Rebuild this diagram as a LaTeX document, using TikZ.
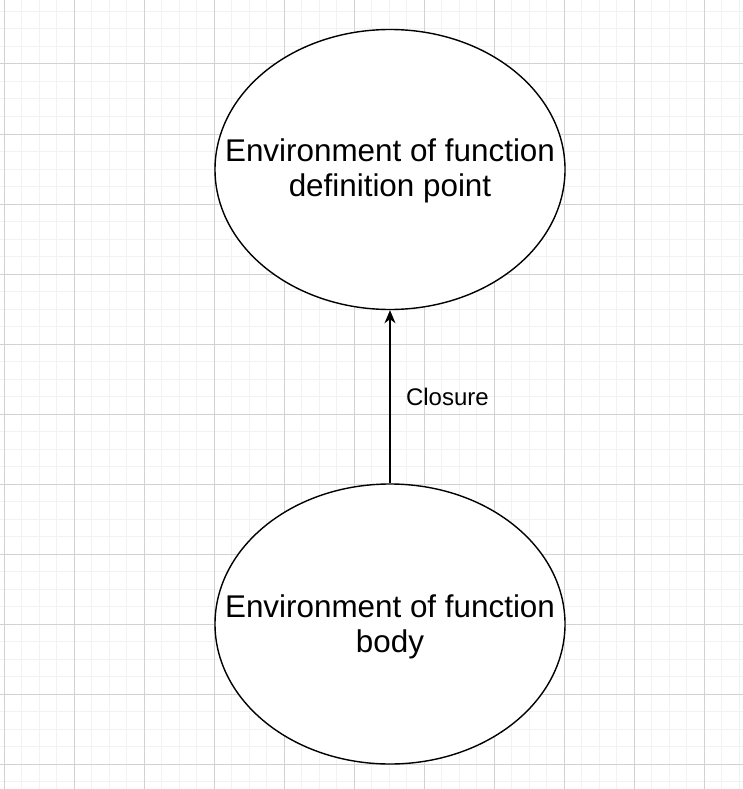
\documentclass[tikz,border=0pt]{standalone}
\usepackage{fontspec}
\setmainfont{Liberation Sans}
\usepackage{xcolor}
\definecolor{gridminor}{RGB}{242,242,242}
\definecolor{gridmajor}{RGB}{210,210,210}
\usepackage{tikz}
\usetikzlibrary{shapes.geometric, arrows.meta, positioning}

\begin{document}
\begin{tikzpicture}[
    x=1pt, y=-1pt,
    envellipse/.style={ellipse, draw, line width=1.4pt, fill=white,
      minimum width=350pt, minimum height=280pt, inner sep=0pt},
    envtext/.style={align=center, font=\fontsize{31.4}{35.5}\selectfont},
    linklabel/.style={font=\fontsize{24}{28}\selectfont}
  ]
  % Background & grid
  \fill[white] (0,0) rectangle (743,789);
  \useasboundingbox (0,0) rectangle (743,789);
  \begin{scope}[shift={(4,11.5)}]
    \draw[gridminor, line width=1pt, step=17.5pt] (-17.5,-17.5) grid (745,785);
  \end{scope}
  \begin{scope}[shift={(4,-6)}]
    \draw[gridmajor, line width=1pt, step=70pt] (-70,0) grid (745,800);
  \end{scope}

  % Environments
  \node[envellipse] (defpoint) at (390,169.5) {};
  \node[envtext] (defpointtext) at (390,171) {Environment of function\\definition point};

  \node[envellipse] (body) at (390,624) {};
  \node[envtext] (bodytext) at (390,627) {Environment of function\\body};

  % Closure link
  \draw[-{Stealth[length=13pt, width=11pt, inset=4pt]}, line width=1.4pt]
    (body.north) -- node[linklabel, right=12pt] (closure) {Closure} (defpoint.south);

\end{tikzpicture}
\end{document}
